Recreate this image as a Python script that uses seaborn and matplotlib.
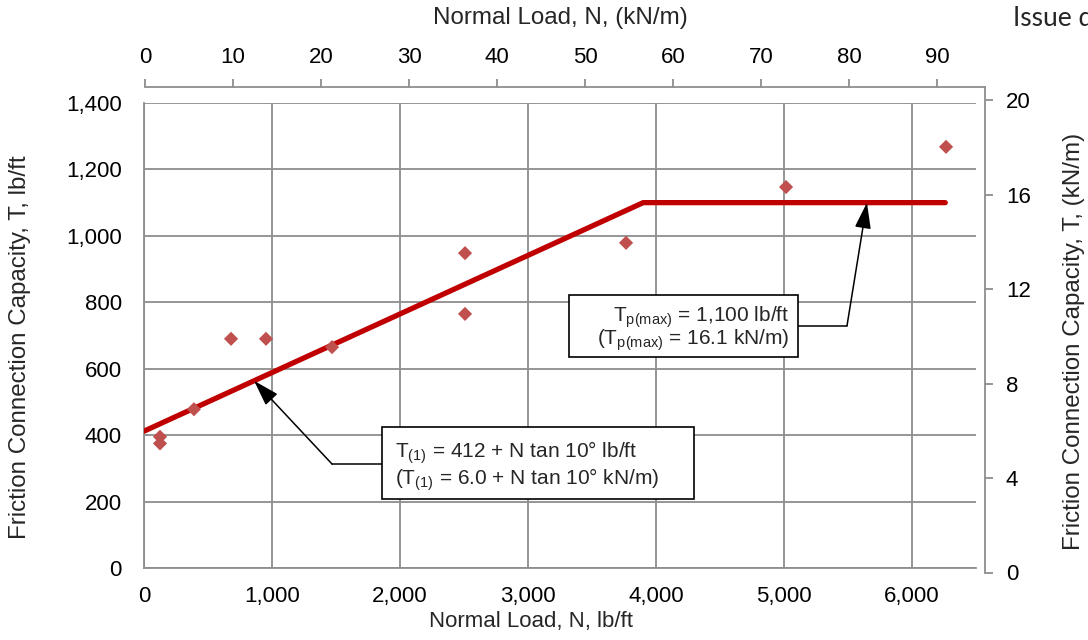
import matplotlib
matplotlib.use("Agg")
import matplotlib.pyplot as plt
import seaborn as sns
import pandas as pd
from matplotlib.patches import Rectangle
from matplotlib.ticker import MultipleLocator, FuncFormatter

# ---------------- data ----------------
test_load_lbft = [125, 125, 390, 680, 953, 1469, 2508, 2508, 3766, 5016, 6266]
test_capacity_lbft = [395, 375, 478, 690, 690, 665, 948, 765, 979, 1147, 1268]

design_load_lbft = [0, 3900, 6260]
design_capacity_lbft = [412, 1100, 1100]

x_ticks_lbft = [0, 1000, 2000, 3000, 4000, 5000, 6000]
y_ticks_lbft = [0, 200, 400, 600, 800, 1000, 1200, 1400]
x_ticks_kNm = [0, 10, 20, 30, 40, 50, 60, 70, 80, 90]
y_ticks_kNm = [0, 4, 8, 12, 16, 20]

label1_lines = ["T$_{(1)}$ = 412 + N tan 10° lb/ft",
                "(T$_{(1)}$ = 6.0 + N tan 10° kN/m)"]
label2_lines = ["T$_{p(max)}$ = 1,100 lb/ft",
                "(T$_{p(max)}$ = 16.1 kN/m)"]

# ---------------- style ----------------
sns.set_style("white")
plt.rcParams["font.family"] = ["Liberation Sans", "DejaVu Sans"]
plt.rcParams["mathtext.fontset"] = "custom"
plt.rcParams["mathtext.rm"] = "Liberation Sans"
plt.rcParams["mathtext.it"] = "Liberation Sans"
plt.rcParams["mathtext.default"] = "regular"

FS = 16
FS_TITLE = 17.4
FS_BOX = 15
GRAY = "#8E8E8E"
W, H = 1088, 640


def rect(l, t, r, b):
    return [l / W, 1 - b / H, (r - l) / W, (b - t) / H]


fig = plt.figure(figsize=(W / 100, H / 100), dpi=100)
ax = fig.add_axes(rect(144, 103, 976, 568))
ax2 = fig.add_axes(rect(145, 86.5, 985, 572.5))
ax2.patch.set_visible(False)

# ---------------- main axes ----------------
pts = pd.DataFrame({"N": test_load_lbft, "T": test_capacity_lbft})
line = pd.DataFrame({"N": design_load_lbft, "T": design_capacity_lbft})

sns.lineplot(data=line, x="N", y="T", ax=ax, color="#C00000", lw=3.8,
             solid_capstyle="round", zorder=3, legend=False)
sns.scatterplot(data=pts, x="N", y="T", ax=ax, marker="D", s=52,
                color="#C0504D", edgecolor="none", linewidth=0, zorder=4,
                legend=False)

ax.set_xlim(0, 6500)
ax.set_ylim(0, 1400)
ax.set_xticks(x_ticks_lbft)
ax.set_yticks(y_ticks_lbft)
ax.xaxis.set_minor_locator(MultipleLocator(200))
ax.yaxis.set_minor_locator(MultipleLocator(40))
fmt = FuncFormatter(lambda v, p: f"{v:,.0f}")
ax.xaxis.set_major_formatter(fmt)
ax.yaxis.set_major_formatter(fmt)
ax.grid(which="major", color=GRAY, lw=1.3)
ax.set_axisbelow(True)
for s in ["top", "right"]:
    ax.spines[s].set_visible(False)
for s in ["left", "bottom"]:
    ax.spines[s].set_color(GRAY)
    ax.spines[s].set_linewidth(1.3)
ax.tick_params(which="major", direction="out", length=6, width=1.3,
               color=GRAY, labelsize=FS, labelcolor="black")
ax.tick_params(axis="y", which="major", pad=10)
ax.tick_params(axis="x", which="major", pad=7)
ax.tick_params(which="minor", direction="in", length=4, width=1.3, color=GRAY)
ax.set_xlabel("")
ax.set_ylabel("")

ARROW = dict(arrowstyle="-|>,head_length=1.6,head_width=0.5",
             color="black", lw=1.1, shrinkA=0, shrinkB=0)

# annotation 1
tip1, elbow1, box1_edge = (860, 563.6), (1469, 313), 1859
ax.plot([box1_edge, elbow1[0]], [elbow1[1], elbow1[1]], color="black", lw=1.1, zorder=5)
ax.annotate("", xy=tip1, xytext=elbow1, arrowprops=ARROW, zorder=5)
ax.add_patch(Rectangle((1859, 207.8), 4297 - 1859, 424.6 - 207.8, fc="white",
                       ec="black", lw=1.2, zorder=6))
for txt, yb in zip(label1_lines, [331.2, 249.9]):
    ax.text(1960, yb, txt, fontsize=FS_BOX, ha="left", va="baseline", zorder=7)

# annotation 2
tip2, elbow2, box2_edge = (5648, 1100), (5492, 729), 5109
ax.plot([box2_edge, elbow2[0]], [elbow2[1], elbow2[1]], color="black", lw=1.1, zorder=5)
ax.annotate("", xy=tip2, xytext=elbow2, arrowprops=ARROW, zorder=5)
ax.add_patch(Rectangle((3320, 635.3), 5109 - 3320, 822.0 - 635.3, fc="white",
                       ec="black", lw=1.2, zorder=6))
for txt, yb in zip(label2_lines, [740.7, 671.5]):
    ax.text(5039, yb, txt, fontsize=FS_BOX, ha="right", va="baseline", zorder=7)

# ---------------- secondary (SI) axes ----------------
ax2.set_xlim(0, 95.45)
ax2.set_ylim(0, 20.59)
ax2.set_xticks(x_ticks_kNm)
ax2.set_yticks(y_ticks_kNm)
ax2.xaxis.tick_top()
ax2.yaxis.tick_right()
for s in ["left", "bottom"]:
    ax2.spines[s].set_visible(False)
for s in ["top", "right"]:
    ax2.spines[s].set_visible(True)
    ax2.spines[s].set_color(GRAY)
    ax2.spines[s].set_linewidth(1.3)
ax2.tick_params(which="major", direction="out", length=6, width=1.3,
                color=GRAY, labelsize=FS, labelcolor="black")
ax2.tick_params(axis="x", pad=7)
ax2.tick_params(axis="y", pad=9)
ax2.grid(False)

# ---------------- axis titles ----------------
fig.text(531 / W, 1 - 622 / H, "Normal Load, N, lb/ft", fontsize=FS, ha="center", va="center")
fig.text(560 / W, 1 - 18 / H, "Normal Load, N, (kN/m)", fontsize=FS_TITLE, ha="center", va="center")
fig.text(20 / W, 1 - 347 / H, "Friction Connection Capacity, T, lb/ft", fontsize=FS_TITLE,
         rotation=90, ha="center", va="center")
fig.text(1074 / W, 1 - 341 / H, "Friction Connection Capacity, T, (kN/m)", fontsize=FS_TITLE,
         rotation=90, ha="center", va="center")
fig.text(1013 / W, 1 - 26 / H, "Issue d", fontsize=19, family=["Lato", "DejaVu Sans"],
         ha="left", va="baseline")

fig.savefig("out.png", dpi=100)
